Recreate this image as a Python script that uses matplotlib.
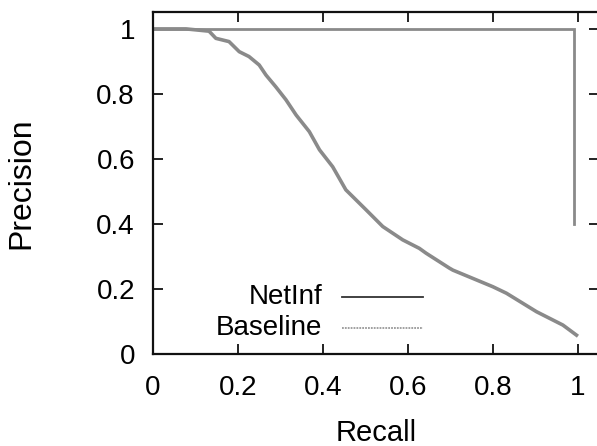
import matplotlib
matplotlib.use("Agg")
import matplotlib.pyplot as plt
from matplotlib.lines import Line2D

plt.rcParams['font.family'] = ['Liberation Sans', 'DejaVu Sans']

# Baseline precision-recall curve
baseline_recall = [0.0, 0.078, 0.132, 0.148, 0.179, 0.203, 0.226, 0.250, 0.266, 0.289,
                   0.313, 0.337, 0.368, 0.392, 0.423, 0.454, 0.502, 0.541, 0.588,
                   0.627, 0.643, 0.698, 0.706, 0.800, 0.832, 0.903, 0.965, 0.997]
baseline_precision = [1.0, 1.0, 0.993, 0.971, 0.961, 0.930, 0.915, 0.889, 0.858, 0.822,
                      0.782, 0.735, 0.684, 0.628, 0.576, 0.505, 0.443, 0.392, 0.351,
                      0.325, 0.310, 0.264, 0.258, 0.207, 0.187, 0.130, 0.089, 0.058]

# NetInf precision-recall curve
netinf_recall = [0.0, 0.99, 0.99]
netinf_precision = [1.0, 1.0, 0.40]

x_ticks = [0, 0.2, 0.4, 0.6, 0.8, 1]
x_ticklabels = ['0', '0.2', '0.4', '0.6', '0.8', '1']
y_ticks = [0, 0.2, 0.4, 0.6, 0.8, 1]
y_ticklabels = ['0', '0.2', '0.4', '0.6', '0.8', '1']

fig = plt.figure(figsize=(5.97, 4.46), dpi=100)
ax = fig.add_axes([153/597, 92/446, 446/597, 342/446])

ax.plot(netinf_recall, netinf_precision, color='#8a8a8a', lw=2.0, solid_joinstyle='miter')
ax.plot(baseline_recall, baseline_precision, color='#8a8a8a', lw=2.6)

ax.set_xlim(0, 1.05)
ax.set_ylim(0, 1.052)
ax.set_xticks(x_ticks)
ax.set_xticklabels(x_ticklabels)
ax.set_yticks(y_ticks)
ax.set_yticklabels(y_ticklabels)
ax.tick_params(direction='in', length=7, width=1.3, labelsize=20, top=True, right=True,
               color='#111111')
ax.tick_params(axis='x', pad=15)
ax.tick_params(axis='y', pad=13)
for s in ax.spines.values():
    s.set_linewidth(1.6)
    s.set_color('#111111')

ax.set_xlabel('Recall', fontsize=21, labelpad=13)
ax.set_ylabel('Precision', fontsize=23, labelpad=43)

# Manual key (text to the left of the sample line)
ax.text(0.379, 0.167, 'NetInf', transform=ax.transAxes, ha='right', va='center', fontsize=20)
ax.text(0.379, 0.076, 'Baseline', transform=ax.transAxes, ha='right', va='center', fontsize=20)
ax.add_line(Line2D([0.424, 0.605], [0.167, 0.167], transform=ax.transAxes,
                   color='#333333', lw=1.3))
ax.add_line(Line2D([0.424, 0.605], [0.076, 0.076], transform=ax.transAxes,
                   color='#999999', lw=1.3, linestyle=(0, (1, 0.6))))

fig.savefig('out.png', dpi=100)
